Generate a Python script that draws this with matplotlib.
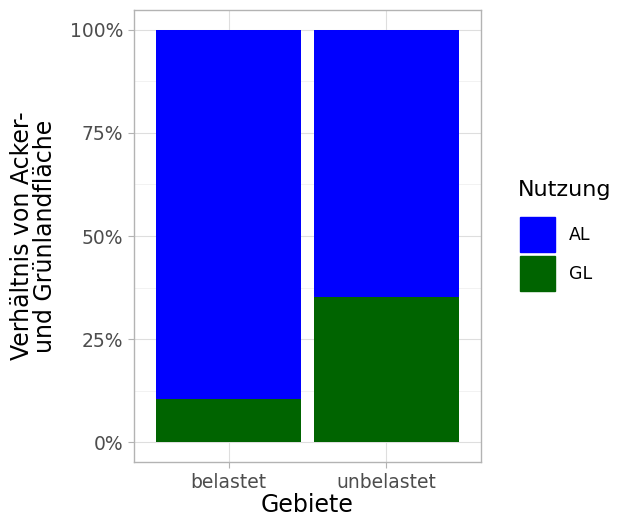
import matplotlib
matplotlib.use("Agg")
import matplotlib.pyplot as plt
from matplotlib.patches import Rectangle
import numpy as np

categories = ["belastet", "unbelastet"]
share_GL = [0.104, 0.352]
share_AL = [1 - v for v in share_GL]
series_names = ["AL", "GL"]
colors = {"AL": "#0000FF", "GL": "#006400"}
yticks = [0, 0.25, 0.5, 0.75, 1.0]
yticklabels = ["0%", "25%", "50%", "75%", "100%"]

W, H = 623, 518
fig = plt.figure(figsize=(W / 100, H / 100), dpi=100)
ax = fig.add_axes([134 / W, 1 - 462 / H, (481 - 134) / W, (462 - 10) / H])

x = np.arange(1, len(categories) + 1)
ax.bar(x, share_GL, width=0.92, color=colors["GL"], zorder=3)
ax.bar(x, share_AL, width=0.92, bottom=share_GL, color=colors["AL"], zorder=3)

ax.set_xlim(0.4, len(categories) + 0.6)
ax.set_ylim(-0.0485, 1.0485)
ax.set_yticks(yticks)
ax.set_yticklabels(yticklabels)
ax.set_yticks([0.125, 0.375, 0.625, 0.875], minor=True)
ax.set_xticks(x)
ax.set_xticklabels(categories)

ax.grid(True, which="major", color="#DEDEDE", linewidth=0.8, zorder=0)
ax.grid(True, which="minor", axis="y", color="#EDEDED", linewidth=0.5, zorder=0)
ax.set_axisbelow(True)
for s in ax.spines.values():
    s.set_color("#B3B3B3")
    s.set_linewidth(1.0)
ax.tick_params(which="major", color="#B3B3B3", length=4, width=0.8,
               labelcolor="#4D4D4D", labelsize=13.5, pad=4)
ax.tick_params(which="minor", length=0)

ax.set_xlabel("Gebiete", fontsize=17, color="black", labelpad=1)
ax.set_ylabel("Verhältnis von Acker-\nund Grünlandfläche", fontsize=17,
              color="black", labelpad=9, linespacing=0.95)

# legend
def px(xp, yp):
    return (xp / W, 1 - yp / H)

fig.text(*px(518, 190), "Nutzung", fontsize=16, va="center", ha="left")
for i, name in enumerate(series_names):
    top = 217 + i * 39
    fig.add_artist(Rectangle(px(520, top + 35), 35 / W, 35 / H,
                             transform=fig.transFigure, color=colors[name]))
    fig.text(*px(569, top + 18), name, fontsize=12.5, va="center", ha="left")

fig.savefig("out.png", dpi=100)
